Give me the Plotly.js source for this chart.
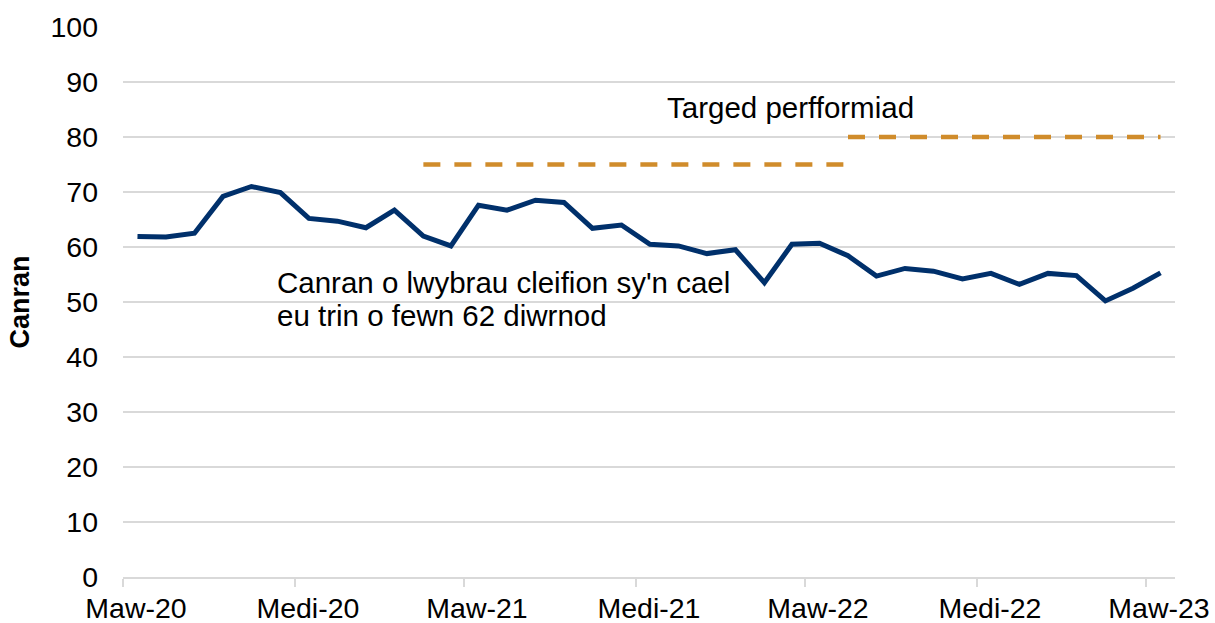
<!DOCTYPE html>
<html>
<head>
<meta charset="utf-8">
<script src="https://cdn.plot.ly/plotly-3.0.1.min.js"></script>
<style>
  html, body { margin: 0; padding: 0; background: #fff; }
  #chart { width: 1215px; height: 623px; }
</style>
</head>
<body>
<div id="chart"></div>
<script>
// Months (Mar 2020 – Mar 2023)
const months = [
  '2020-03','2020-04','2020-05','2020-06','2020-07','2020-08','2020-09','2020-10','2020-11','2020-12',
  '2021-01','2021-02','2021-03','2021-04','2021-05','2021-06','2021-07','2021-08','2021-09','2021-10','2021-11','2021-12',
  '2022-01','2022-02','2022-03','2022-04','2022-05','2022-06','2022-07','2022-08','2022-09','2022-10','2022-11','2022-12',
  '2023-01','2023-02','2023-03'
];
// Canran o lwybrau cleifion sy'n cael eu trin o fewn 62 diwrnod
const pathwayPct = [
  61.9, 61.8, 62.5, 69.2, 71.0, 69.9, 65.2, 64.7, 63.5, 66.7,
  62.0, 60.2, 67.6, 66.7, 68.5, 68.1, 63.4, 64.0, 60.5, 60.2, 58.8, 59.5,
  53.5, 60.5, 60.7, 58.4, 54.7, 56.1, 55.6, 54.2, 55.2, 53.2, 55.2, 54.8,
  50.2, 52.5, 55.3
];
// Targed perfformiad
const target1Months = ['2021-01','2021-02','2021-03','2021-04','2021-05','2021-06','2021-07','2021-08','2021-09','2021-10','2021-11','2021-12','2022-01','2022-02','2022-03','2022-04'];
const target1Values = [75,75,75,75,75,75,75,75,75,75,75,75,75,75,75,75];
const target2Months = ['2022-04','2022-05','2022-06','2022-07','2022-08','2022-09','2022-10','2022-11','2022-12','2023-01','2023-02','2023-03'];
const target2Values = [80,80,80,80,80,80,80,80,80,80,80,80];

// Tick labels
const tickVals = ['2020-03-01','2020-09-01','2021-03-01','2021-09-01','2022-03-01','2022-09-01','2023-03-01'];
const tickText = ['Maw-20','Medi-20','Maw-21','Medi-21','Maw-22','Medi-22','Maw-23'];

const FONT = 'Liberation Sans, Arial, Helvetica, sans-serif';
const navy = '#00306B';
const gold = '#D08C2B';

const traces = [
  {
    x: target1Months, y: target1Values, type: 'scatter', mode: 'lines',
    xperiod: 'M1', xperiodalignment: 'middle',
    line: { color: gold, width: 4.5, dash: '17px,14px' },
    hoverinfo: 'skip'
  },
  {
    x: target2Months, y: target2Values, type: 'scatter', mode: 'lines',
    xperiod: 'M1', xperiodalignment: 'middle',
    line: { color: gold, width: 4.5, dash: '17px,14px' },
    hoverinfo: 'skip'
  },
  {
    x: months, y: pathwayPct, type: 'scatter', mode: 'lines',
    xperiod: 'M1', xperiodalignment: 'middle',
    line: { color: navy, width: 5 },
    hoverinfo: 'skip'
  }
];

const L = 123, R = 1175, T = 27, B = 577;
const px = x => (x - L) / (R - L);
const py = y => (B - y) / (B - T);

const layout = {
  width: 1215, height: 623,
  margin: { l: L, r: 1215 - R, t: T, b: 623 - B, pad: 0 },
  paper_bgcolor: '#fff', plot_bgcolor: '#fff',
  showlegend: false,
  font: { family: FONT, color: '#000' },
  xaxis: {
    type: 'date',
    range: ['2020-03-01', '2023-04-01'],
    tickmode: 'array', tickvals: tickVals, ticktext: tickText,
    ticks: 'outside', ticklen: 8, tickwidth: 1.5, tickcolor: '#d9d9d9',
    ticklabelshift: 13, ticklabelstandoff: -3,
    showline: true, linecolor: '#d9d9d9', linewidth: 1.5,
    showgrid: false, zeroline: false,
    tickfont: { family: FONT, size: 28.5, color: '#000' },
    automargin: false, fixedrange: true
  },
  yaxis: {
    range: [0, 100], dtick: 10, tick0: 0,
    showgrid: true, gridcolor: '#d9d9d9', gridwidth: 1.5,
    showline: false, zeroline: false, ticks: '',
    ticklabelstandoff: 24,
    tickfont: { family: FONT, size: 28.5, color: '#000' },
    title: { text: 'Canran', font: { family: FONT, size: 27, weight: 'bold', color: '#000' }, standoff: 12 },
    automargin: false, fixedrange: true
  },
  annotations: [
    { xref: 'paper', yref: 'paper', x: px(665), y: py(108), xanchor: 'left', yanchor: 'middle',
      text: 'Targed perfformiad', showarrow: false, font: { family: FONT, size: 29.5, color: '#000' } },
    { xref: 'paper', yref: 'paper', x: px(275), y: py(282), xanchor: 'left', yanchor: 'middle',
      text: "Canran o lwybrau cleifion sy'n cael", showarrow: false, font: { family: FONT, size: 29.5, color: '#000' } },
    { xref: 'paper', yref: 'paper', x: px(275), y: py(316), xanchor: 'left', yanchor: 'middle',
      text: 'eu trin o fewn 62 diwrnod', showarrow: false, font: { family: FONT, size: 29.5, color: '#000' } }
  ]
};

Plotly.newPlot('chart', traces, layout, { staticPlot: true, displayModeBar: false });
</script>
</body>
</html>
